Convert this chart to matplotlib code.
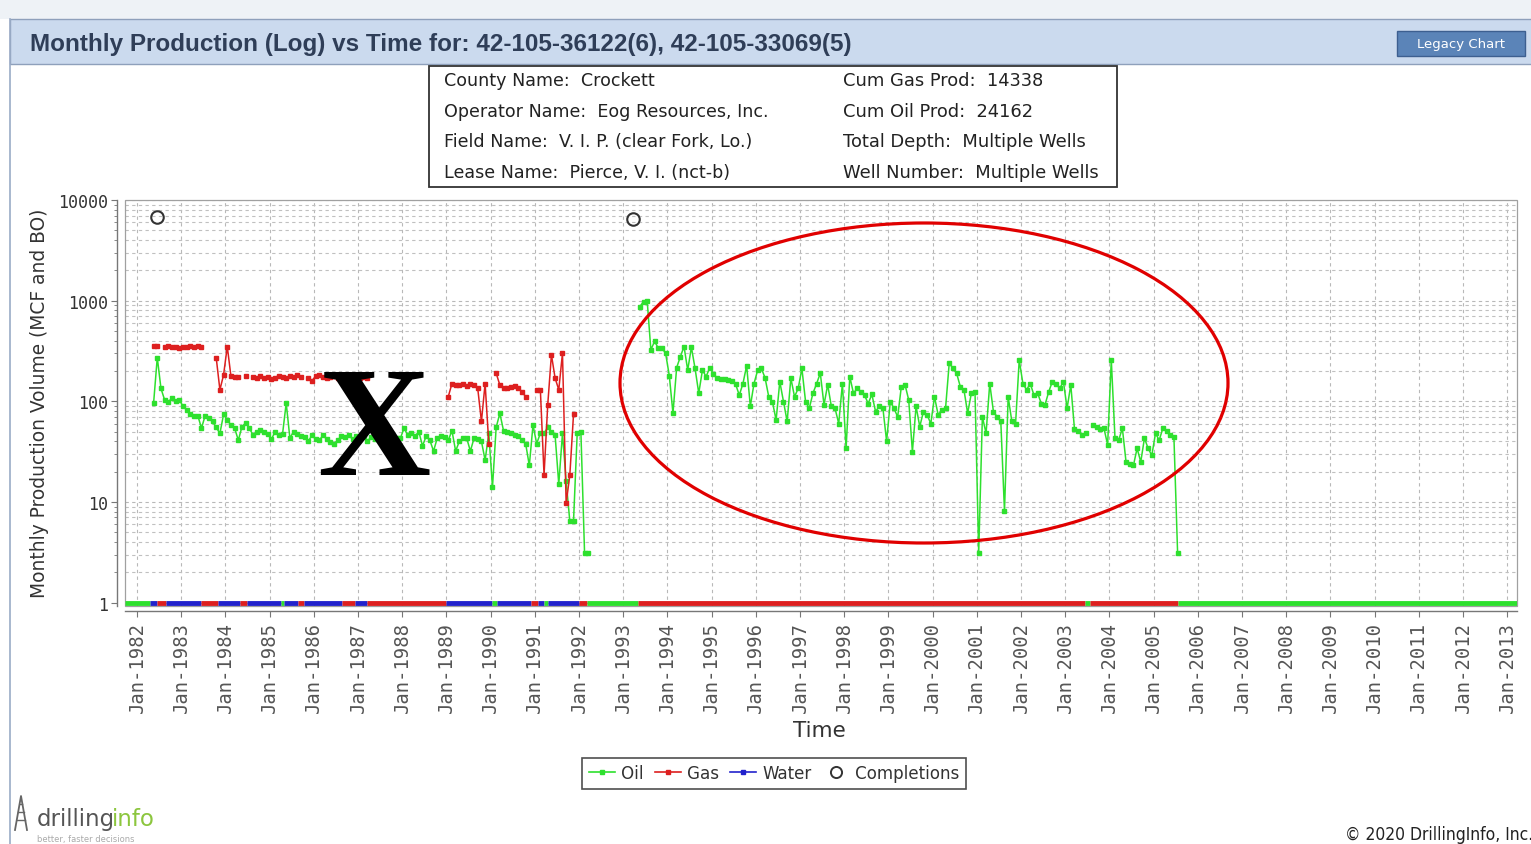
import numpy as np
import matplotlib
matplotlib.use("Agg")
import matplotlib.pyplot as plt
from matplotlib.patches import Rectangle, Ellipse
from matplotlib.lines import Line2D
import matplotlib.ticker as mticker

# ---------------- data ----------------
# monthly values, each series starts at the given month (index counted from Jan-1982)
oil_1982_start = 4      # May-1982
oil_1982 = [96, 272, 134, 103, 99, 107, 100, 103, 89, 82,
            74, 72, 72, 54, 72, 68, 63, 55, 48, 74,
            65, 58, 54, 41, 56, 61, 54, 46, 50, 52,
            49, 47, 42, 50, 46, 47, 96, 43, 50, 47,
            45, 44, 40, 46, 42, 41, 46, 42, 39, 38,
            41, 45, 44, 46, 42, 45, 43, 45, 40, 44,
            42, 46, 43, 45, 41, 44, 43, 43, 54, 46,
            48, 45, 50, 36, 45, 41, 32, 43, 45, 44,
            41, 51, 32, 40, 43, 43, 32, 43, 42, 40,
            26, 48, 14, 55, 76, 51, 50, 48, 46, 45,
            41, 38, 23, 58, 38, 48, 48, 55, 50, 46,
            15, 48, 16, 6.4, 6.4, 48, 50, 3.1, 3.1]

oil_1993_start = 136    # May-1993
oil_1993 = [870, 980, 995, 324, 394, 338, 338, 300, 180, 76,
            216, 277, 350, 204, 344, 212, 120, 204, 176, 216,
            186, 170, 168, 168, 163, 160, 148, 115, 150, 226,
            89, 150, 204, 212, 171, 111, 99, 65, 157, 99,
            63, 170, 111, 134, 212, 99, 85, 120, 150, 190,
            92, 146, 89, 85, 60, 150, 34, 176, 120, 134,
            124, 115, 95, 117, 79, 89, 85, 40, 99, 85,
            70, 140,
            146, 103, 31.5, 89, 56, 79, 73, 60, 111, 73,
            82, 85, 240, 212, 190, 140, 130, 76, 120, 124,
            3.1, 70, 48, 150, 79, 70, 63, 8.1, 111, 63,
            59, 257, 150, 130, 150, 115, 120, 95, 92, 124,
            157, 150, 134, 157, 85, 146, 53, 51, 46, 48,
            None,
            58, 56, 53, 54, 37, 257, 43, 41, 54, 25,
            24, 23, 34, 25, 43, 34, 29, 48, 41, 54,
            51, 46, 44, 3.1]

gas_a_start = 4
gas_a = [355, 352, None, 350, 355, 345, 350, 340, 350, 345, 352, 350, 355, 350]

gas_b_start = 21
gas_b = [270, 130, 183, 350, 177, 175, 175, None, 178, None,
         176, 172, 178, 170, 174, 168, 172, 180, 176, 170,
         178, 175, 182, 176, None, 172, 160, 178, 182, 175,
         170, 176, 180, 172, 178, 175, 172, 178, 174, 170,
         176, 172]

gas_c_start = 84
gas_c = [111, 150, 146, 145, 150, 141, 150, 145, 134, 63,
         150, 38, None, 190, 145, 134, 134, 138, 141, 134,
         125, 111, None, None, 130, 130, 18.5, 92, 290, 170,
         130, 300, 9.7, 18.5, 74]

completion_years = [1982.45, 1993.22]
completion_values = [6800, 6500]

# zero-production months drawn at the bottom of the log axis (value 1)
zero_start = [1981.73, 1982.29, 1982.45, 1982.65, 1983.45, 1983.83, 1984.33, 1984.49,
              1985.26, 1985.33, 1985.64, 1985.78, 1986.64, 1986.93, 1987.20, 1988.99,
              1990.03, 1990.14, 1990.91, 1991.07, 1991.20, 1991.30, 1992.00, 1992.18,
              1993.33, 2003.45, 2003.55, 2005.55]
zero_end = [1982.29, 1982.45, 1982.65, 1983.45, 1983.83, 1984.33, 1984.49, 1985.26,
            1985.33, 1985.64, 1985.78, 1986.64, 1986.93, 1987.20, 1988.99, 1990.03,
            1990.14, 1990.91, 1991.07, 1991.20, 1991.30, 1992.00, 1992.18, 1993.33,
            2003.45, 2003.55, 2005.55, 2013.25]
zero_series = ['Oil', 'Water', 'Gas', 'Water', 'Gas', 'Water', 'Gas', 'Water',
               'Oil', 'Water', 'Gas', 'Water', 'Gas', 'Water', 'Gas', 'Water',
               'Oil', 'Water', 'Gas', 'Water', 'Oil', 'Water', 'Gas', 'Oil',
               'Gas', 'Oil', 'Gas', 'Oil']

years = list(range(1982, 2014))
year_labels = [f"Jan-{y}" for y in years]

info_left = ["County Name:  Crockett", "Operator Name:  Eog Resources, Inc.",
             "Field Name:  V. I. P. (clear Fork, Lo.)", "Lease Name:  Pierce, V. I. (nct-b)"]
info_right = ["Cum Gas Prod:  14338", "Cum Oil Prod:  24162",
              "Total Depth:  Multiple Wells", "Well Number:  Multiple Wells"]

title = "Monthly Production (Log) vs Time for: 42-105-36122(6), 42-105-33069(5)"

# ---------------- style ----------------
GREEN = '#2ee02e'
RED = '#dd1f1f'
BLUE = '#2222cc'
COLORS = {'Oil': GREEN, 'Gas': RED, 'Water': BLUE}

W, H, DPI = 1531, 845, 100
fig = plt.figure(figsize=(W / DPI, H / DPI), dpi=DPI)
fig.patch.set_facecolor('white')


def fx(px):
    return px / W


def fy(py):
    return 1 - py / H


def frect(x0, y0, x1, y1, **kw):
    r = Rectangle((fx(x0), fy(y1)), fx(x1) - fx(x0), fy(y0) - fy(y1),
                  transform=fig.transFigure, **kw)
    fig.add_artist(r)
    return r


# page chrome
frect(0, 0, W, 20, facecolor='#eef2f6', edgecolor='none', zorder=0)
frect(10, 20, W + 2, 65, facecolor='#cbdaee', edgecolor='#8ea0bb', lw=1, zorder=1)
fig.add_artist(Line2D([fx(10), fx(10)], [fy(20), fy(845)], transform=fig.transFigure,
                      color='#9aabc6', lw=1.2))
fig.text(fx(30), fy(44), title, fontsize=17.5, fontweight='bold', color='#2f3e58',
         family='Liberation Sans', va='center', ha='left')
frect(1397, 32, 1525, 57, facecolor='#5b84b8', edgecolor='#3d5f90', lw=1)
fig.text(fx(1461), fy(44.5), "Legacy Chart", fontsize=9.5, color='white',
         ha='center', va='center')

# info box
frect(429, 67, 1117, 188, facecolor='white', edgecolor='#333333', lw=1.3)
for i, (l, r) in enumerate(zip(info_left, info_right)):
    yy = 81 + i * 30.7
    fig.text(fx(444), fy(yy), l, fontsize=12.6, color='#222222', va='center', ha='left',
             family='DejaVu Sans')
    fig.text(fx(843), fy(yy), r, fontsize=12.9, color='#222222', va='center', ha='left',
             family='DejaVu Sans')

# ---------------- plot ----------------
ax = fig.add_axes([fx(125), fy(606.7), fx(1517) - fx(125), (606.7 - 201) / H])
ax.set_facecolor('white')
ax.set_yscale('log')
ax.set_ylim(0.93, 10000)
ax.set_xlim(1981.728, 2013.22)


def month_x(start, n):
    return 1982 + (start + np.arange(n) + 0.5) / 12.0


def as_arr(vals):
    return np.array([np.nan if v is None else v for v in vals], dtype=float)


ax.grid(which='major', axis='both', color='#b8b8b8', ls=(0, (3, 3)), lw=0.8)
ax.grid(which='minor', axis='y', color='#c0c0c0', ls=(0, (3, 3)), lw=0.8)
ax.set_axisbelow(True)

for s, e, k in zip(zero_start, zero_end, zero_series):
    ax.hlines(1, s, e, colors=COLORS[k], lw=3.5, zorder=3)

for start, vals, col in [(oil_1982_start, oil_1982, GREEN), (oil_1993_start, oil_1993, GREEN),
                         (gas_a_start, gas_a, RED), (gas_b_start, gas_b, RED),
                         (gas_c_start, gas_c, RED)]:
    ax.plot(month_x(start, len(vals)), as_arr(vals), color=col, lw=1.1, marker='s',
            ms=3, mec=col, mfc=col, zorder=4)

ax.plot(completion_years, completion_values, 'o', mfc='none', mec='#333333', ms=9,
        mew=1.5, zorder=5)

# axes / ticks
for sp in ['top', 'right']:
    ax.spines[sp].set_visible(False)
ax.spines['left'].set_position(('outward', 6))
ax.spines['bottom'].set_position(('outward', 4))
for sp in ['left', 'bottom']:
    ax.spines[sp].set_color('#777777')
    ax.spines[sp].set_linewidth(1.0)
ax.add_patch(Rectangle((0, 0), 1, 1, transform=ax.transAxes, fill=False,
                       edgecolor='#a0a0a0', lw=0.9, clip_on=False, zorder=2))

ax.set_xticks(years)
ax.set_xticklabels(year_labels, rotation=90, family='DejaVu Sans Mono', fontsize=13.6,
                   color='#555555')
ax.yaxis.set_major_locator(mticker.FixedLocator([1, 10, 100, 1000, 10000]))
ax.yaxis.set_major_formatter(mticker.FixedFormatter(['1', '10', '100', '1000', '10000']))
ax.yaxis.set_minor_locator(mticker.LogLocator(base=10, subs=np.arange(2, 10)))
ax.yaxis.set_minor_formatter(mticker.NullFormatter())
for lab in ax.get_yticklabels():
    lab.set_family('DejaVu Sans Mono')
    lab.set_fontsize(12)
    lab.set_color('#333333')
ax.tick_params(axis='y', which='major', length=4, color='#777777', pad=2)
ax.tick_params(axis='y', which='minor', length=2, color='#777777')
ax.tick_params(axis='x', which='major', length=4, color='#777777', pad=3)

fig.text(fx(40), fy(403), "Monthly Production Volume (MCF and BO)", rotation=90,
         fontsize=13.4, color='#333333', ha='center', va='center')
fig.text(fx(819), fy(731), "Time", fontsize=15.5, color='#333333', ha='center', va='center')

# legend
handles = [Line2D([], [], color=GREEN, marker='s', ms=3, lw=1.2),
           Line2D([], [], color=RED, marker='s', ms=3, lw=1.2),
           Line2D([], [], color=BLUE, marker='s', ms=3, lw=1.2),
           Line2D([], [], ls='none', marker='o', mfc='none', mec='#333333', ms=8, mew=1.4)]
leg = fig.legend(handles, ['Oil', 'Gas', 'Water', 'Completions'], loc='center',
                 bbox_to_anchor=(fx(774), fy(774.5)), ncol=4, frameon=True, fancybox=False,
                 edgecolor='#222222', handlelength=1.4, handletextpad=0.35,
                 columnspacing=0.6, borderpad=0.35, labelcolor='#333333',
                 prop={'family': 'DejaVu Sans', 'stretch': 'condensed', 'size': 13.3})
leg.get_frame().set_linewidth(1.2)

# annotations on the screenshot
fig.text(fx(374), fy(437), "X", fontsize=113, fontweight='bold', family='Liberation Serif',
         color='black', ha='center', va='center')
fig.add_artist(Ellipse((fx(924), fy(384)), 608 / W, 320 / H, transform=fig.transFigure,
                       fill=False, edgecolor='#e00000', lw=2.3))

# logo and footer
fig.add_artist(Line2D([fx(15), fx(21), fx(27)], [fy(831), fy(797), fy(831)],
                      transform=fig.transFigure, color='#666666', lw=1.3))
for yy in [805, 813, 821]:
    fig.add_artist(Line2D([fx(21 - (yy - 797) * 6 / 34), fx(21 + (yy - 797) * 6 / 34)],
                          [fy(yy), fy(yy)], transform=fig.transFigure, color='#666666', lw=1))
fig.text(fx(37), fy(820), "drilling", fontsize=16.5, color='#555555', va='center', ha='left')
fig.text(fx(112), fy(820), "info", fontsize=16.5, color='#8cc63e', va='center', ha='left')
fig.text(fx(37), fy(840), "better, faster decisions", fontsize=6, color='#aaaaaa',
         va='center', ha='left')
fig.text(fx(1533), fy(835), "\u00a9 2020 DrillingInfo, Inc.", fontsize=12.5, color='#222222',
         ha='right', va='center', family='DejaVu Sans', fontstretch='condensed')

fig.savefig('out.png', dpi=DPI, facecolor=fig.get_facecolor())
